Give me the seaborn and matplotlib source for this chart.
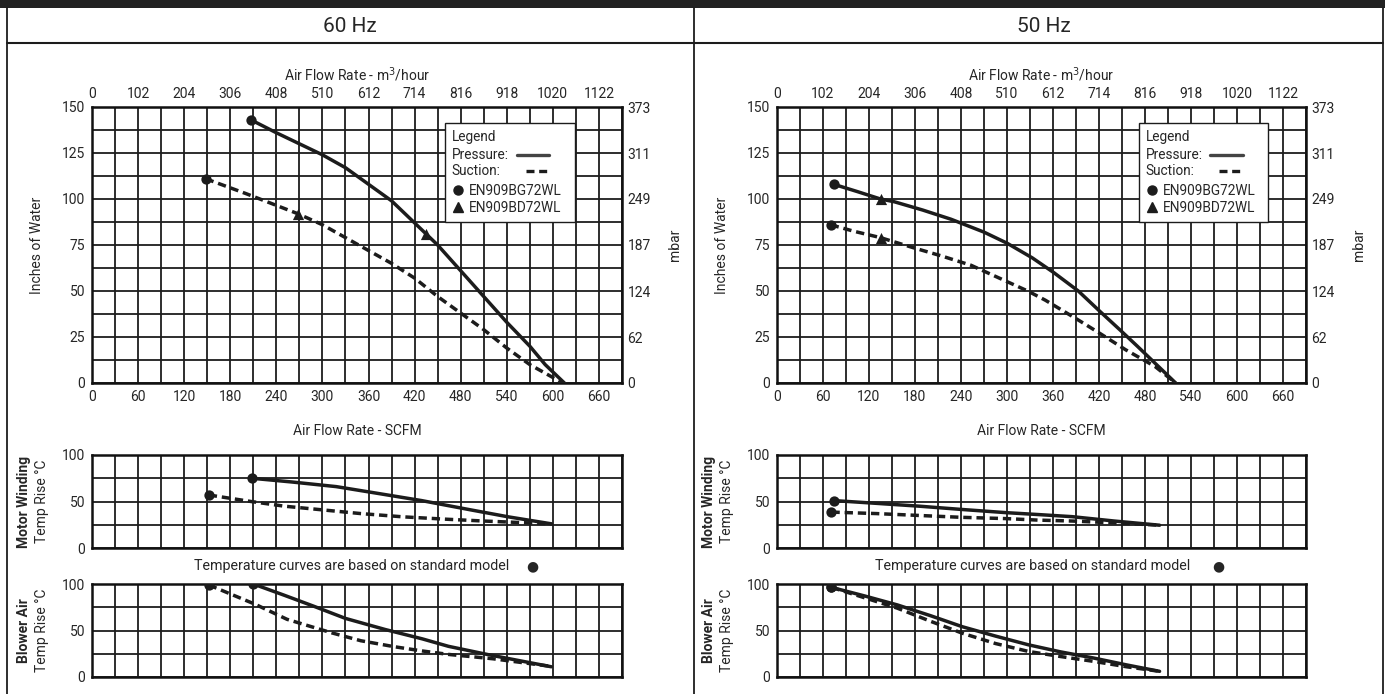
#%%
import numpy as np
import pandas as pd
import matplotlib.pyplot as plt
import seaborn as sns
from matplotlib.lines import Line2D
from matplotlib.patches import Rectangle

sns.set_style("white")
plt.rcParams['font.family'] = ['Roboto', 'DejaVu Sans']

#%% values (SCFM, inches of water, degC rise)
freqs = ["60 Hz", "50 Hz"]

# 60 Hz
p60_scfm = [207, 240, 270, 300, 330, 360, 390, 420, 450, 480, 510, 540, 570, 590, 615]
p60_inh2o = [143, 136, 130, 124, 117, 108, 99, 87, 75, 61, 47, 33, 20, 10, 0]
s60_scfm = [148, 200, 268, 300, 330, 360, 390, 420, 450, 480, 510, 540, 570, 600, 612]
s60_inh2o = [111, 103, 92, 86, 79, 72, 65, 57, 47, 38, 29, 19, 10, 3, 0]
bg60_scfm = [207, 148]
bg60_inh2o = [143, 111]
bd60_scfm = [435, 268]
bd60_inh2o = [81, 92]

mw60_p_scfm = [208, 260, 318, 370, 429, 493, 542, 598]
mw60_p_rise = [75, 71, 66, 59, 51, 41, 33.5, 26]
mw60_s_scfm = [152, 207, 250, 300, 350, 405, 460, 510, 598]
mw60_s_rise = [57, 50, 45, 41, 37, 33.5, 31, 29, 26]
ba60_p_scfm = [210, 250, 289, 330, 382, 430, 464, 516, 560, 598]
ba60_p_rise = [100, 88, 76, 63, 51, 41, 33, 24, 17, 11]
ba60_s_scfm = [152, 213, 254, 312, 350, 394, 430, 464, 522, 598]
ba60_s_rise = [99, 78, 62, 47.5, 39, 32.5, 28, 24.3, 19.6, 11.4]

# 50 Hz
p50_scfm = [74, 105, 135, 153, 190, 227, 270, 300, 333, 361, 393, 421, 447, 470, 495, 520]
p50_inh2o = [108, 104, 100, 98.5, 94, 89, 82, 76, 68, 60, 50, 39, 29, 20, 10, 0]
s50_scfm = [70, 100, 135, 178, 215, 253, 290, 327, 350, 390, 421, 455, 493, 520]
s50_inh2o = [86, 82.5, 79, 73.5, 69, 64, 57, 50, 45, 35, 27, 18, 9, 0]
bg50_scfm = [74, 70]
bg50_inh2o = [108, 86]
bd50_scfm = [135, 135]
bd50_inh2o = [100, 79]

mw50_p_scfm = [74, 130, 185, 240, 299, 340, 385, 440, 499]
mw50_p_rise = [51, 48, 45, 41.5, 38, 36, 33.7, 29, 24.5]
mw50_s_scfm = [71, 130, 185, 240, 299, 340, 385, 440, 499]
mw50_s_rise = [38.6, 37, 35, 33, 31.6, 30, 29, 27, 24.5]
ba50_p_scfm = [71, 115, 157, 200, 242, 285, 328, 370, 413, 456, 499]
ba50_p_rise = [96.4, 87, 77.5, 66, 54, 44, 34.6, 27, 20.4, 13, 6.1]
ba50_s_scfm = [71, 115, 157, 200, 242, 285, 328, 370, 413, 456, 499]
ba50_s_rise = [96.4, 85, 74, 60, 47, 36, 27.5, 22, 16.8, 11, 6.1]

scfm_ticks = list(range(0, 661, 60))
m3h_ticks = [0, 102, 204, 306, 408, 510, 612, 714, 816, 918, 1020, 1122]
inh2o_ticks = [0, 25, 50, 75, 100, 125, 150]
mbar_ticks = [0, 62, 124, 187, 249, 311, 373]
rise_ticks = [0, 50, 100]
models = ["EN909BG72WL", "EN909BD72WL"]

INK = "#1c1c1c"
DASH = (0, (2.4, 1.4))
W, H = 1385, 694
FS = 10

#%% helpers
fig = plt.figure(figsize=(W / 100, H / 100), dpi=100)


def px_axes(x0, y0, x1, y1):
    return fig.add_axes([x0 / W, 1 - y1 / H, (x1 - x0) / W, (y1 - y0) / H])


def grid_axes(ax, ymax, ystep):
    ax.set_xlim(0, 690)
    ax.set_ylim(0, ymax)
    ax.set_xticks(np.arange(0, 691, 30), minor=True)
    ax.set_yticks(np.arange(0, ymax + 0.1, ystep), minor=True)
    ax.set_axisbelow(True)
    ax.grid(True, which="both", color=INK, lw=1.3)
    ax.tick_params(which="both", length=0, labelsize=FS, pad=5)
    for s in ax.spines.values():
        s.set_linewidth(1.8)
        s.set_color("#111111")


def curve(ax, x, y, dashed=False):
    sns.lineplot(x=x, y=y, ax=ax, color=INK, lw=2.5, sort=False,
                 linestyle=DASH if dashed else "-", zorder=4)


def dots(ax, x, y, marker="o", s=55):
    sns.scatterplot(x=x, y=y, ax=ax, marker=marker, s=s, color=INK,
                    edgecolor=INK, linewidth=0, zorder=5, legend=False)


def draw_legend(ax, x0):
    w = 0.245
    ax.add_patch(Rectangle((x0, 0.583), w, 0.359, transform=ax.transAxes,
                           facecolor="white", edgecolor=INK, lw=1.0, zorder=6))
    tx = x0 + 0.013
    kw = dict(transform=ax.transAxes, fontsize=9.8, va="center", zorder=7)
    ax.text(tx, 0.892, "Legend", **kw)
    ax.text(tx, 0.826, "Pressure:", **kw)
    ax.text(tx, 0.768, "Suction:", **kw)
    ax.text(x0 + 0.045, 0.697, models[0], **kw)
    ax.text(x0 + 0.045, 0.635, models[1], **kw)
    ax.add_line(Line2D([x0 + 0.135, x0 + 0.196], [0.826, 0.826], transform=ax.transAxes,
                       color="#444444", lw=2.4, zorder=7))
    ax.add_line(Line2D([x0 + 0.152, x0 + 0.196], [0.768, 0.768], transform=ax.transAxes,
                       color=INK, lw=2.4, linestyle=DASH, zorder=7))
    ax.add_line(Line2D([x0 + 0.024], [0.699], transform=ax.transAxes, marker="o",
                       ms=6.5, color=INK, lw=0, zorder=7))
    ax.add_line(Line2D([x0 + 0.024], [0.637], transform=ax.transAxes, marker="^",
                       ms=7, color=INK, lw=0, zorder=7))


def temp_label(ax, first, second):
    ax.text(-0.128, 0.5, first, transform=ax.transAxes, rotation=90, ha="center",
            va="center", fontsize=FS, fontweight="bold")
    ax.text(-0.094, 0.5, second, transform=ax.transAxes, rotation=90, ha="center",
            va="center", fontsize=FS)


panels = [
    dict(title=freqs[0], x0=92, x1=622, cx=350, leg=0.666,
         p=(p60_scfm, p60_inh2o), s=(s60_scfm, s60_inh2o),
         bg=(bg60_scfm, bg60_inh2o), bd=(bd60_scfm, bd60_inh2o),
         mw=((mw60_p_scfm, mw60_p_rise), (mw60_s_scfm, mw60_s_rise)),
         ba=((ba60_p_scfm, ba60_p_rise), (ba60_s_scfm, ba60_s_rise)),
         note_x=352, dot_x=532),
    dict(title=freqs[1], x0=777, x1=1306, cx=1044, leg=0.684,
         p=(p50_scfm, p50_inh2o), s=(s50_scfm, s50_inh2o),
         bg=(bg50_scfm, bg50_inh2o), bd=(bd50_scfm, bd50_inh2o),
         mw=((mw50_p_scfm, mw50_p_rise), (mw50_s_scfm, mw50_s_rise)),
         ba=((ba50_p_scfm, ba50_p_rise), (ba50_s_scfm, ba50_s_rise)),
         note_x=1033, dot_x=1218),
]

#%% draw
for pn in panels:
    # pressure / suction chart
    ax = px_axes(pn["x0"], 107, pn["x1"], 383)
    grid_axes(ax, 150, 12.5)
    ax.set_xticks(scfm_ticks)
    ax.set_yticks(inh2o_ticks)
    curve(ax, *pn["p"])
    curve(ax, *pn["s"], dashed=True)
    dots(ax, *pn["bg"])
    dots(ax, *pn["bd"], marker="^", s=65)
    ax.set_xlabel("Air Flow Rate - SCFM", fontsize=FS)
    ax.xaxis.set_label_coords(0.5, -0.15)
    ax.set_ylabel("Inches of Water", fontsize=FS)
    ax.yaxis.set_label_coords(-0.09, 0.5)

    top = ax.secondary_xaxis("top", functions=(lambda v: v * 1.7, lambda v: v / 1.7))
    top.set_xticks(m3h_ticks)
    top.tick_params(length=0, labelsize=FS, pad=4)
    top.set_xlabel("Air Flow Rate - m$^3$/hour", fontsize=FS, labelpad=5)

    right = ax.secondary_yaxis("right", functions=(lambda v: v * 2.49, lambda v: v / 2.49))
    right.set_yticks(mbar_ticks)
    right.tick_params(length=0, labelsize=FS, pad=4)
    right.set_ylabel("mbar", fontsize=FS, labelpad=12)
    draw_legend(ax, pn["leg"])

    # motor winding temperature rise
    ax2 = px_axes(pn["x0"], 455, pn["x1"], 548)
    grid_axes(ax2, 100, 25)
    ax2.set_xticks([])
    ax2.set_yticks(rise_ticks)
    (xp, yp), (xs, ys) = pn["mw"]
    curve(ax2, xp, yp)
    curve(ax2, xs, ys, dashed=True)
    dots(ax2, [xp[0], xs[0]], [yp[0], ys[0]])
    temp_label(ax2, "Motor Winding", "Temp Rise °C")

    # blower air temperature rise
    ax3 = px_axes(pn["x0"], 584, pn["x1"], 677)
    grid_axes(ax3, 100, 25)
    ax3.set_xticks([])
    ax3.set_yticks(rise_ticks)
    (xp, yp), (xs, ys) = pn["ba"]
    curve(ax3, xp, yp)
    curve(ax3, xs, ys, dashed=True)
    dots(ax3, [xp[0], xs[0]], [yp[0], ys[0]])
    temp_label(ax3, "Blower Air", "Temp Rise °C")

    fig.text(pn["note_x"] / W, 1 - 566 / H, "Temperature curves are based on standard model",
             ha="center", va="center", fontsize=10.3)
    fig.text(pn["dot_x"] / W, 1 - 566 / H, "●", ha="center", va="center", fontsize=10,
             family=["DejaVu Sans"])
    fig.text(pn["cx"] / W, 1 - 27 / H, pn["title"], ha="center", va="center", fontsize=15)

# sheet frame
fig.add_artist(Rectangle((0, 1 - 8 / H), 1, 8 / H, transform=fig.transFigure,
                         facecolor="#222222", edgecolor="none"))
fig.add_artist(Line2D([7 / W, 1383 / W], [1 - 43 / H, 1 - 43 / H], transform=fig.transFigure,
                      color=INK, lw=1.5))
for xb in [7, 694, 1383]:
    fig.add_artist(Line2D([xb / W, xb / W], [0, 1 - 8 / H], transform=fig.transFigure,
                          color=INK, lw=1.3))

plt.savefig("out.png", dpi=100)
